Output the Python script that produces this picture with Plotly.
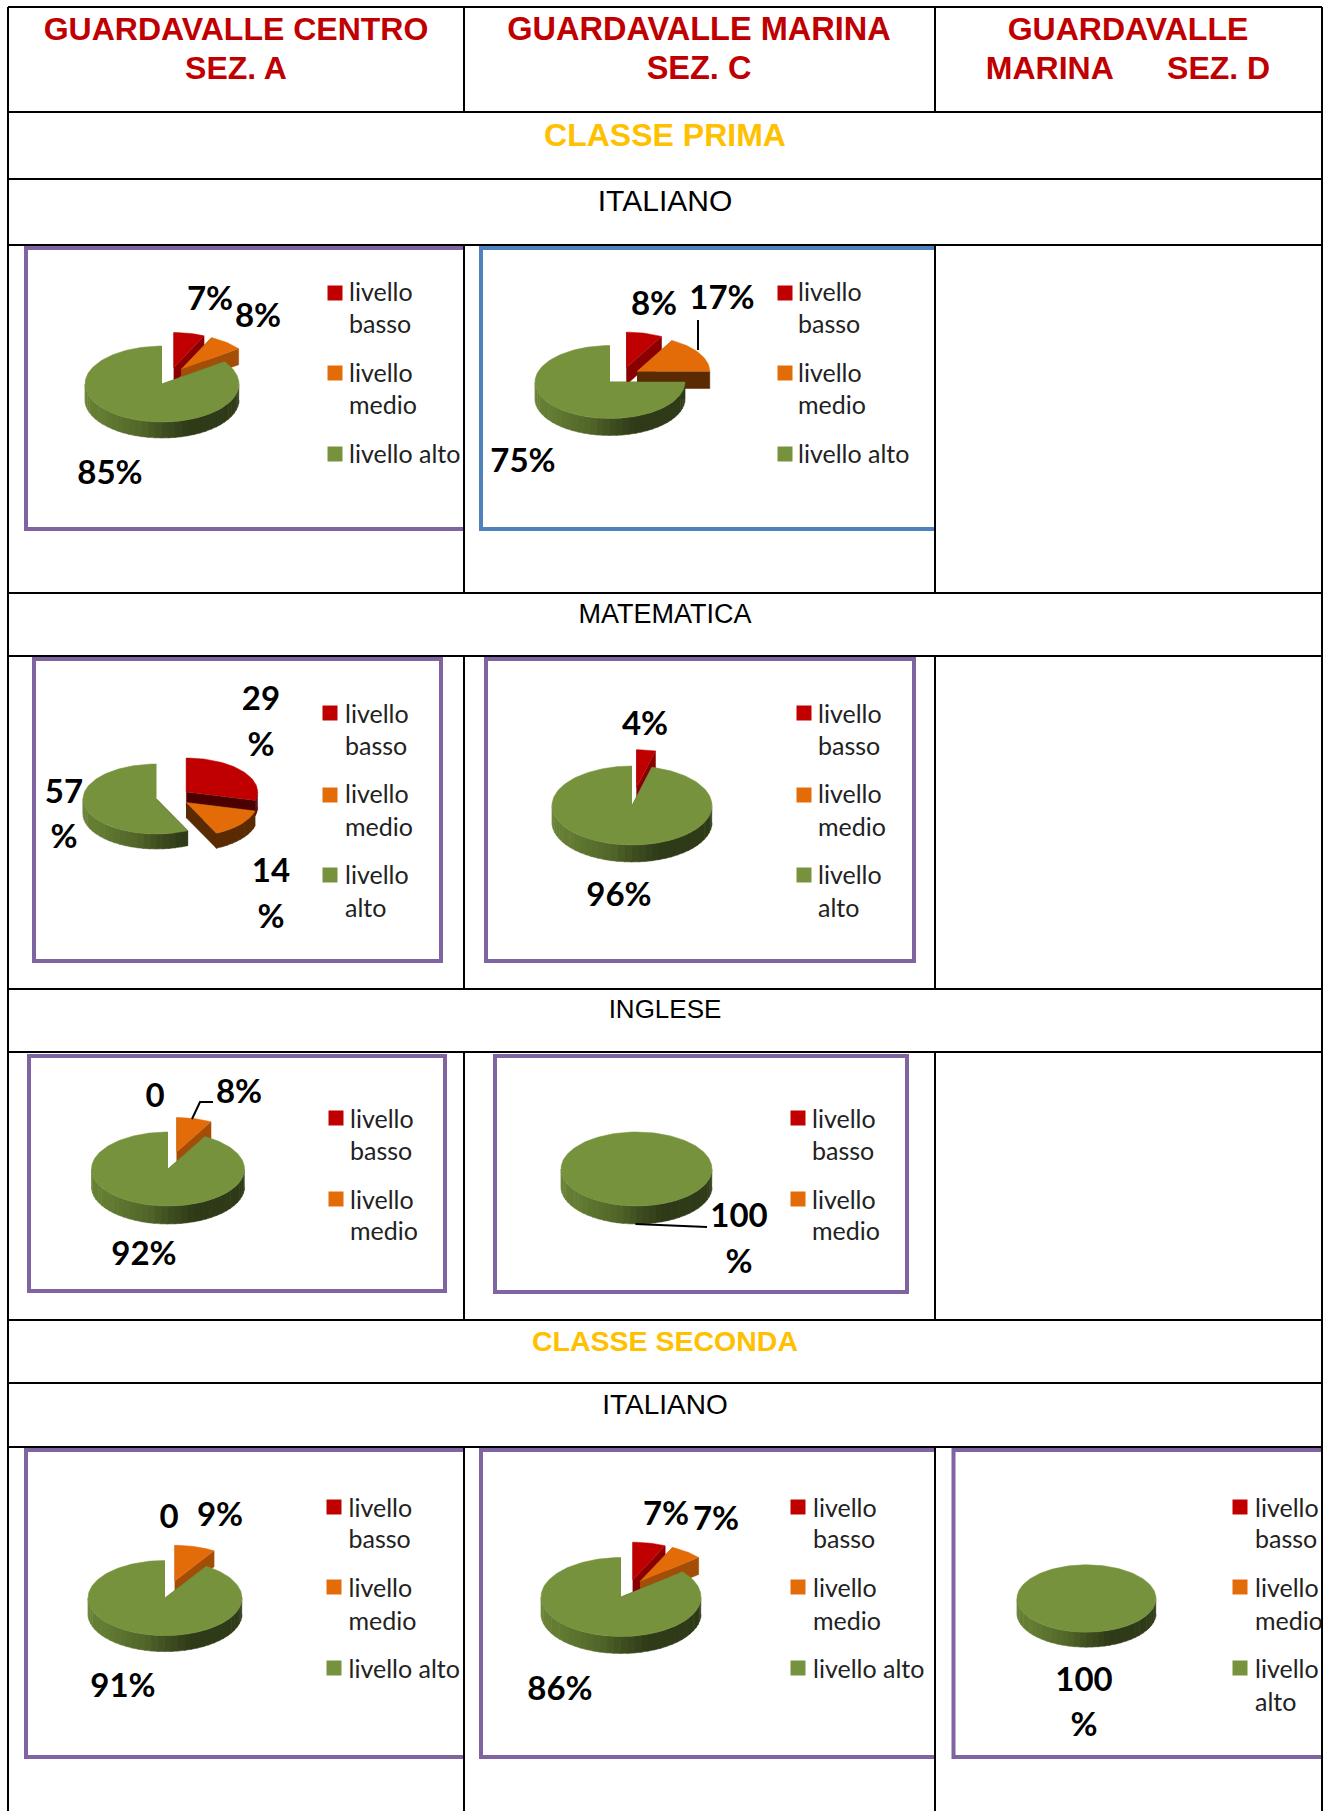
import math
import numpy as np
import plotly.graph_objects as go

W, H = 1327, 1811

# ---------- data ----------
BASSO = [7, 8, 29, 4, 0, 0, 0, 7, 0]
MEDIO = [8, 17, 14, 0, 8, 0, 9, 7, 0]
ALTO = [85, 75, 57, 96, 92, 100, 91, 86, 100]
LEVELS = ["livello basso", "livello medio", "livello alto"]
HEAD_A = ["GUARDAVALLE CENTRO", "SEZ. A"]
HEAD_C = ["GUARDAVALLE MARINA", "SEZ. C"]
HEAD_D = ["GUARDAVALLE", "MARINA\u00a0\u00a0\u00a0\u00a0\u00a0\u00a0SEZ. D"]
CLASSES = ["CLASSE PRIMA", "CLASSE SECONDA"]
SUBJECTS = ["ITALIANO", "MATEMATICA", "INGLESE", "ITALIANO"]

# ---------- layout ----------
RED, ORANGE, GREEN = "#C00000", "#E36C09", "#76923C"
COLORS = [RED, ORANGE, GREEN]
PURPLE, BLUE = "#8064A2", "#4F81BD"
HLINES = [7, 112, 179, 245, 593, 656, 989, 1052, 1320, 1383, 1447]
COL_X = [8, 464, 935, 1322]

# green slice centre x, y, radius x, radius y, depth
PIES = [
    (162, 384, 77, 38, 16), (610, 382, 75, 36.5, 17), (156.5, 799, 73.5, 35, 15),
    (632, 805.5, 80, 39.5, 17), (168, 1169, 76.5, 37, 18), (636.5, 1169, 75.5, 37, 18),
    (165, 1598, 77, 37.6, 16), (621, 1597, 80, 39.5, 17), (1086.5, 1598.5, 69.5, 33.7, 15),
]
# size of the pulled-out slices relative to the green one
PULLED_SCALE = [.92, .97, .97, .95, .93, 1, .95, .95, 1]
# x0, y0, x1, y1, colour, open on the right side
FRAMES = [
    (26, 248, 464, 529, PURPLE, True), (481, 248, 935, 529, BLUE, True),
    (34, 659, 441, 961, PURPLE, False), (486, 659, 914, 961, PURPLE, False),
    (29, 1056, 445, 1291, PURPLE, False), (495, 1056, 907, 1292, PURPLE, False),
    (26, 1450, 464, 1757, PURPLE, True), (481, 1450, 935, 1757, PURPLE, True),
    (953.5, 1450, 1322, 1757, PURPLE, True),
]
# text, x, y
VALUE_LABELS = [
    ("7%", 210, 298), ("8%", 258, 315), ("85%", 110, 472),
    ("8%", 654, 303), ("17%", 722, 297), ("75%", 523, 460),
    ("29", 261, 698), ("%", 261, 744), ("14", 271, 870), ("%", 271, 916), ("57", 64, 791), ("%", 64, 836),
    ("4%", 645, 723), ("96%", 619, 894),
    ("0", 155, 1095), ("8%", 239, 1091), ("92%", 144, 1253),
    ("100", 739, 1215), ("%", 739, 1261),
    ("0", 169, 1516), ("9%", 220, 1514), ("91%", 123, 1685),
    ("7%", 666, 1513), ("7%", 716, 1518), ("86%", 560, 1688),
    ("100", 1084, 1679), ("%", 1084, 1724),
]
LEADERS = [
    ([698, 698], [320, 350]),
    ([213, 200, 192], [1102, 1102, 1119]),
    ([707, 635.5], [1227, 1224]),
]
# square x, text x, [square y per item], [(line, y)...], use clipped axis
LEGENDS = [
    (335, 349, [293, 373, 454], [("livello", 291), ("basso", 323), ("livello", 372), ("medio", 404), ("livello alto", 453)], False),
    (785, 798, [293, 373, 454], [("livello", 291), ("basso", 323), ("livello", 372), ("medio", 404), ("livello alto", 453)], False),
    (330, 345, [713, 795, 875], [("livello", 713), ("basso", 745), ("livello", 793), ("medio", 826), ("livello", 874), ("alto", 907)], False),
    (804, 818, [713, 795, 875], [("livello", 713), ("basso", 745), ("livello", 793), ("medio", 826), ("livello", 874), ("alto", 907)], False),
    (336, 350, [1118, 1199], [("livello", 1118), ("basso", 1150), ("livello", 1199), ("medio", 1230)], False),
    (798, 812, [1118, 1199], [("livello", 1118), ("basso", 1150), ("livello", 1199), ("medio", 1230)], False),
    (334, 348.5, [1507, 1587, 1668], [("livello", 1507), ("basso", 1538), ("livello", 1587), ("medio", 1620), ("livello alto", 1668)], False),
    (798, 813, [1507, 1587, 1668], [("livello", 1507), ("basso", 1538), ("livello", 1587), ("medio", 1620), ("livello alto", 1668)], False),
    (1240, 1255, [1507, 1587, 1668], [("livello", 1507), ("basso", 1538), ("livello", 1587), ("medio", 1620), ("livello", 1668), ("alto", 1701)], True),
]

EXPLODE = 0.23
TEXT_SHIFT = 3.5
SANS = "Liberation Sans"
CAL = "Lato"

fig = go.Figure()


def shade(color, k):
    r, g, b = int(color[1:3], 16), int(color[3:5], 16), int(color[5:7], 16)
    return f"rgb({int(r*k)},{int(g*k)},{int(b*k)})"


def poly(xs, ys, color):
    fig.add_trace(go.Scatter(x=list(xs), y=list(ys), mode="lines", fill="toself", fillcolor=color,
                             line=dict(width=0.5, color=color), hoverinfo="skip", showlegend=False))


def txt(s, x, y, size, color="#000", bold=False, pos="middle center", family=SANS, clipped=False):
    fig.add_trace(go.Scatter(x=[x], y=[y + TEXT_SHIFT], mode="text", text=[s], textposition=pos,
                             textfont=dict(family=family, size=size, color=color, weight="bold" if bold else "normal"),
                             hoverinfo="skip", showlegend=False, xaxis="x2" if clipped else "x",
                             cliponaxis=clipped))


def rim_k(a):
    return float(np.interp(a, [90, 160, 180, 195, 230, 270], [.4, .4, .55, .7, .85, .9]))


def wedge(cx, cy, rx, ry, d, a0, a1, color):
    def pt(a, dy=0.0):
        t = math.radians(a)
        return cx + rx * math.sin(t), cy - ry * math.cos(t) + dy
    full = a1 - a0 >= 359.99
    if not full:
        for a in (a0, a1):
            k = .4 if 80 <= a <= 280 else .72
            if a >= 355:
                continue
            x1, y1 = pt(a)
            poly([cx, x1, x1, cx], [cy, y1, y1 + d, cy + d], shade(color, k))
    lo, hi = max(a0, 90), min(a1, 270)
    a = lo
    while a < hi:
        b = min(a + 5, hi)
        ang = np.linspace(a, b + (0.6 if b < hi else 0), 4)
        top = [pt(v) for v in ang]
        bot = [pt(v, d) for v in ang[::-1]]
        poly([p[0] for p in top + bot], [p[1] for p in top + bot], shade(color, rim_k((a + b) / 2)))
        a = b
    ang = np.linspace(a0, a1, max(8, int((a1 - a0) / 2)))
    pts = [pt(v) for v in ang]
    if not full:
        pts = [(cx, cy)] + pts
    poly([p[0] for p in pts], [p[1] for p in pts], color)


def pie(values, geom, pulled):
    gx, gy, rx, ry, d = geom
    total = sum(values)
    angles = np.cumsum([0] + [v / total * 360 for v in values])
    e = 0 if values[2] >= 100 else EXPLODE * rx
    gm = math.radians((angles[2] + angles[3]) / 2)
    ox, oy = gx - e * math.sin(gm), gy + e * 0.5 * math.cos(gm)
    for i, v in enumerate(values):
        if v <= 0:
            continue
        m = math.radians((angles[i] + angles[i + 1]) / 2)
        k = 1 if i == 2 else pulled
        wedge(ox + e * math.sin(m), oy - e * 0.5 * math.cos(m), rx * k, ry * k, d,
              float(angles[i]), float(angles[i + 1]), COLORS[i])


for i in range(len(ALTO)):
    pie([BASSO[i], MEDIO[i], ALTO[i]], PIES[i], PULLED_SCALE[i])

for xs, ys in LEADERS:
    fig.add_trace(go.Scatter(x=xs, y=ys, mode="lines", line=dict(color="#000", width=2),
                             hoverinfo="skip", showlegend=False))

for s, x, y in VALUE_LABELS:
    txt(s, x, y, 33, bold=True, family=CAL)

for sx, tx, sqs, lines, clip in LEGENDS:
    fig.add_trace(go.Scatter(x=[sx] * len(sqs), y=sqs, mode="markers",
                             marker=dict(symbol="square", size=15, color=COLORS[:len(sqs)], line=dict(width=0)),
                             hoverinfo="skip", showlegend=False))
    for s, y in lines:
        txt(s, tx, y, 25, color="#222", pos="middle right", family=CAL, clipped=clip)

# headers
for head, x, size in ((HEAD_A, 236, 32), (HEAD_C, 699, 32.5), (HEAD_D, 1128, 32)):
    txt(head[0], x, 28, size, color=RED, bold=True)
    txt(head[1], x, 67, size, color=RED, bold=True)
txt(CLASSES[0], 665, 134, 32, color="#FFC000", bold=True)
txt(CLASSES[1], 665, 1340, 28.5, color="#FFC000", bold=True)
txt(SUBJECTS[0], 665, 200, 30)
txt(SUBJECTS[1], 665, 613, 27)
txt(SUBJECTS[2], 665, 1008, 26)
txt(SUBJECTS[3], 665, 1403, 28)

shapes = []
for x0, y0, x1, y1, c, is_open in FRAMES:
    if is_open:
        shapes.append(dict(type="path", xref="x", yref="y",
                           path=f"M {x1} {y0} L {x0} {y0} L {x0} {y1} L {x1} {y1}",
                           line=dict(color=c, width=4), layer="below"))
    else:
        shapes.append(dict(type="rect", xref="x", yref="y", x0=x0, y0=y0, x1=x1, y1=y1,
                           line=dict(color=c, width=4), fillcolor="rgba(0,0,0,0)", layer="below"))
black = dict(color="#000", width=2)
for y in HLINES:
    shapes.append(dict(type="line", xref="x", yref="y", x0=COL_X[0], x1=COL_X[3], y0=y, y1=y, line=black, layer="above"))
for x in (COL_X[0], COL_X[3]):
    shapes.append(dict(type="line", xref="x", yref="y", x0=x, x1=x, y0=7, y1=H, line=black, layer="above"))
for x in COL_X[1:3]:
    for y0, y1 in ((7, 112), (245, 593), (656, 989), (1052, 1320), (1447, H)):
        shapes.append(dict(type="line", xref="x", yref="y", x0=x, x1=x, y0=y0, y1=y1, line=black, layer="above"))

axis = dict(visible=False, showgrid=False, zeroline=False, fixedrange=True)
fig.update_layout(
    width=W, height=H, margin=dict(l=0, r=0, t=0, b=0), paper_bgcolor="#fff", plot_bgcolor="rgba(0,0,0,0)",
    showlegend=False, shapes=shapes,
    xaxis=dict(range=[0, W], domain=[0, 1], **axis),
    xaxis2=dict(range=[0, 1322], domain=[0, 1322 / W], anchor="y", **axis),
    yaxis=dict(range=[H, 0], domain=[0, 1], **axis),
)
fig.write_html("out.html", config=dict(displayModeBar=False),
               post_script="document.body.style.margin='0';document.documentElement.style.overflow='hidden';")
